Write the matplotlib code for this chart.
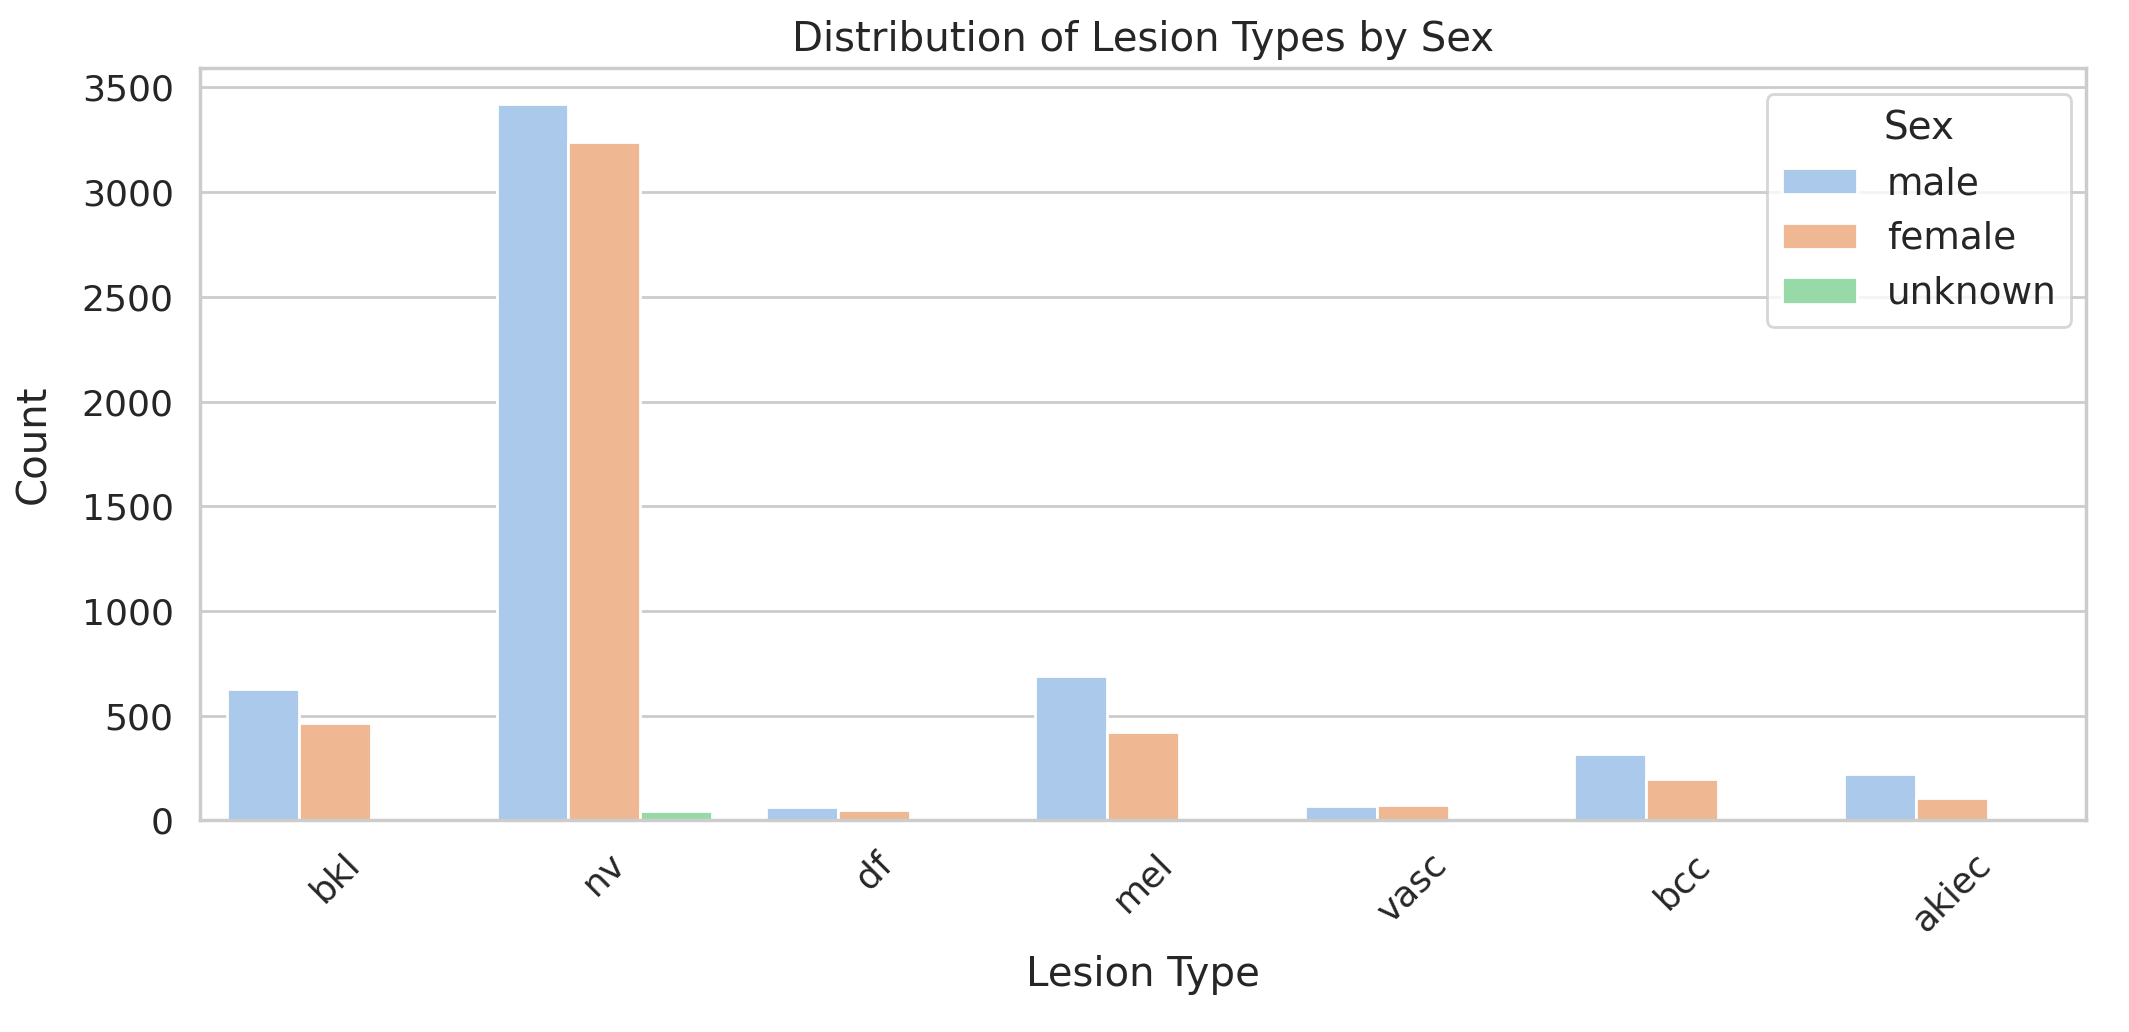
import numpy as np
import pandas as pd
import matplotlib
matplotlib.use("Agg")
import matplotlib.pyplot as plt
import seaborn as sns

lesion_types = ["bkl", "nv", "df", "mel", "vasc", "bcc", "akiec"]
sexes = ["male", "female", "unknown"]

male_counts = [626, 3421, 63, 689, 69, 317, 221]
female_counts = [463, 3237, 52, 424, 73, 197, 106]
unknown_counts = [10, 47, 0, 0, 0, 0, 0]

# long table for seaborn
df = pd.DataFrame({
    "dx": lesion_types * 3,
    "sex": ["male"] * 7 + ["female"] * 7 + ["unknown"] * 7,
    "count": male_counts + female_counts + unknown_counts,
})

sns.set_theme(style="whitegrid", palette="pastel")
plt.rcParams['font.family'] = ['DejaVu Sans']

fig, ax = plt.subplots(figsize=(10.645, 5.16), dpi=200)
fig.subplots_adjust(left=0.094, right=0.98, top=0.934, bottom=0.205)

sns.barplot(data=df, x="dx", y="count", hue="sex", order=lesion_types,
            hue_order=sexes, ax=ax)

ax.set_title("Distribution of Lesion Types by Sex", fontsize=14.5)
ax.set_xlabel("Lesion Type", fontsize=14.5, labelpad=6)
ax.set_ylabel("Count", fontsize=14.5, labelpad=10)
ax.tick_params(axis="both", labelsize=13)
plt.xticks(rotation=45)
ax.legend(title="Sex", fontsize=13.5, title_fontsize=14, loc="upper right",
          labelspacing=0.5, borderaxespad=0.4, bbox_to_anchor=(1.0, 0.985))

fig.savefig("out.png")
